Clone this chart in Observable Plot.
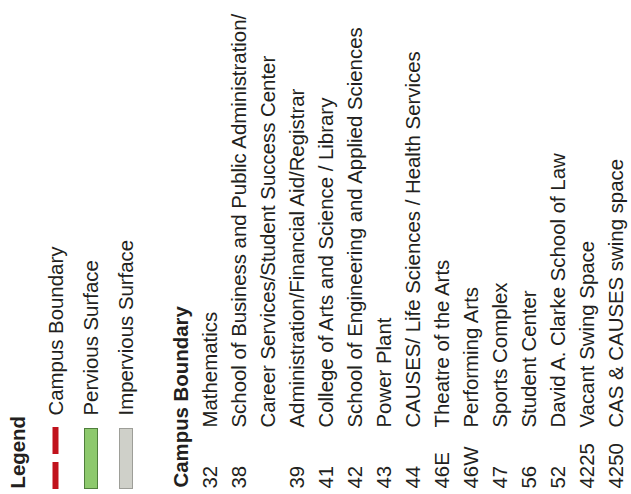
<!DOCTYPE html>
<html><head><meta charset="utf-8">
<script src="https://cdn.jsdelivr.net/npm/d3@7"></script>
<script src="https://cdn.jsdelivr.net/npm/@observablehq/plot@0.6"></script>
<style>
html,body{margin:0;padding:0;background:#fff;}
#wrap{display:flex;flex-direction:row;width:631px;height:494px;overflow:hidden;}
#wrap>div{flex:none;}
#wrap svg{display:block;max-width:none;}
</style></head><body><div id="wrap"><div id="a"></div><div id="b"></div></div>
<script>
const legendTitle = "Legend";
const legendItems = ["Campus Boundary", "Pervious Surface", "Impervious Surface"];
const listTitle = "Campus Boundary";
const buildingNumbers = ["32", "38", "", "39", "41", "42", "43", "44", "46E", "46W", "47", "56", "52", "4225", "4250"];
const buildingNames = [
  "Mathematics",
  "School of Business and Public Administration/",
  "Career Services/Student Success Center",
  "Administration/Financial Aid/Registrar",
  "College of Arts and Science / Library",
  "School of Engineering and Applied Sciences",
  "Power Plant",
  "CAUSES/ Life Sciences / Health Services",
  "Theatre of the Arts",
  "Performing Arts",
  "Sports Complex",
  "Student Center",
  "David A. Clarke School of Law",
  "Vacant Swing Space",
  "CAS & CAUSES swing space"
];

const txt = {
  rotate: -90, textAnchor: "start", lineAnchor: "bottom",
  fontFamily: "'Liberation Sans', Arial, Helvetica, sans-serif",
  fontSize: 20.4, fill: "#231f20", frameAnchor: "bottom"
};

const plotA = Plot.plot({
  width: 150, height: 494, margin: 0,
  style: {background: "white"},
  x: {type: "point", domain: legendItems, range: [62, 132], padding: 0, axis: null},
  color: {domain: legendItems, range: ["#c1121c", "#8dc96d", "#cfd0c9"]},
  marks: [
    Plot.text([legendTitle], {...txt, text: d => d, frameAnchor: "bottom-left", dx: 24, dy: -6, fontWeight: "bold"}),
    Plot.text(legendItems, {...txt, x: d => d, text: d => d, dy: -79}),
    Plot.ruleX(legendItems.slice(0, 1), {x: d => d, stroke: d => d, strokeWidth: 6, strokeDasharray: "27 8", insetTop: 427, insetBottom: 4, dx: -7}),
    Plot.ruleX(legendItems.slice(1, 2), {x: d => d, stroke: "#4f7f3c", strokeWidth: 14, insetTop: 428, insetBottom: 5, dx: -6.5}),
    Plot.ruleX(legendItems.slice(2, 3), {x: d => d, stroke: "#9d9e98", strokeWidth: 14, insetTop: 428, insetBottom: 5, dx: -6.5}),
    Plot.ruleX(legendItems.slice(1), {x: d => d, stroke: d => d, strokeWidth: 12, insetTop: 429, insetBottom: 6, dx: -6.5})
  ]
});

const plotB = Plot.plot({
  width: 481, height: 494, margin: 0,
  style: {background: "white"},
  x: {type: "point", domain: [listTitle, ...buildingNames], range: [34, 475], padding: 0, axis: null},
  marks: [
    Plot.text([listTitle], {...txt, x: d => d, text: d => d, dy: -7, fontWeight: "bold"}),
    Plot.text(buildingNumbers, {...txt, x: (d, i) => buildingNames[i], text: d => d, dy: -6}),
    Plot.text(buildingNames, {...txt, x: d => d, text: d => d, dy: -67})
  ]
});

document.getElementById("a").append(plotA);
document.getElementById("b").append(plotB);
</script>
</body></html>
